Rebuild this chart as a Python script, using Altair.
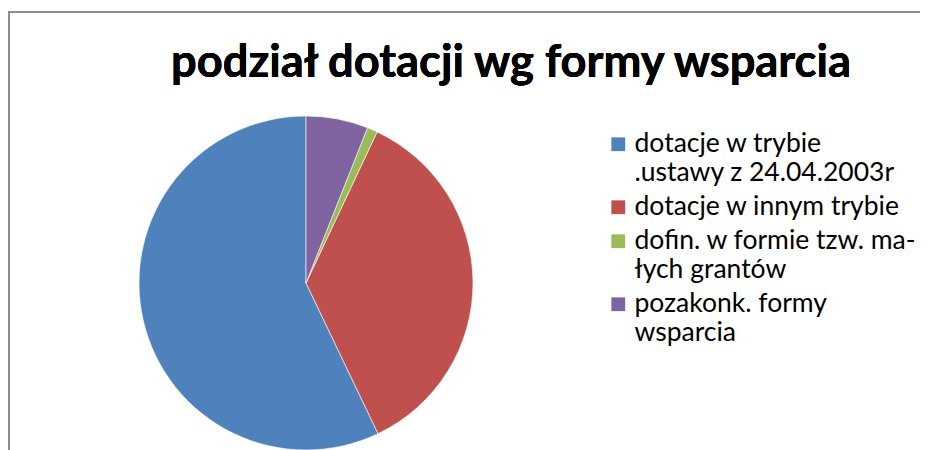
import altair as alt
import pandas as pd

categories = [
    "dotacje w trybie .ustawy z 24.04.2003r",
    "dotacje w innym trybie",
    "dofin. w formie tzw. małych grantów",
    "pozakonk. formy wsparcia",
]
values = [57.1, 35.9, 1.0, 6.0]
draw_order = [4, 3, 2, 1]
colors = ["#4F81BD", "#C0504D", "#9BBB59", "#8064A2"]
legend_lines = [
    ["dotacje w trybie", ".ustawy z 24.04.2003r"],
    ["dotacje w innym trybie"],
    ["dofin. w formie tzw. ma-", "łych grantów"],
    ["pozakonk. formy", "wsparcia"],
]
title_text = "podział dotacji wg formy wsparcia"

df = pd.DataFrame({"kategoria": categories, "wartosc": values, "kolej": draw_order})

expr = "datum.label"
for cat, lines in reversed(list(zip(categories, legend_lines))):
    arr = "[" + ",".join("'" + l + "'" for l in lines) + "]"
    expr = f"datum.label == '{cat}' ? {arr} : ({expr})"

pie = alt.Chart(df).mark_arc(radius=167, stroke="#ffffff", strokeWidth=0.6).encode(
    theta=alt.Theta("wartosc:Q", stack=True),
    order=alt.Order("kolej:Q"),
    color=alt.Color(
        "kategoria:N",
        scale=alt.Scale(domain=categories, range=colors),
        legend=alt.Legend(
            title=None,
            orient="none",
            legendX=597,
            legendY=123,
            symbolType="square",
            symbolSize=190,
            symbolStrokeWidth=0,
            labelFont="Lato",
            labelFontSize=26.5,
            labelColor="#000000",
            labelExpr=expr,
            labelLimit=400,
            labelOffset=3,
            rowPadding=7,
        ),
    ),
    x=alt.value(298),
    y=alt.value(275),
)

title = alt.Chart(df).mark_text(
    text=title_text, font="Lato", fontSize=45.3, fontWeight="bold", color="#000000",
    align="center", baseline="alphabetic",
).encode(x=alt.value(503), y=alt.value(69))

frame_top = alt.Chart(df).mark_rule(color="#8c8c8c", strokeWidth=1.5).encode(
    x=alt.value(0), x2=alt.value(912), y=alt.value(4)
)
frame_left = alt.Chart(df).mark_rule(color="#8c8c8c", strokeWidth=1.5).encode(
    x=alt.value(1), y=alt.value(4), y2=alt.value(442)
)

chart = alt.layer(pie, title, frame_top, frame_left).properties(
    width=912, height=442, padding=0, autosize=alt.AutoSizeParams(type="none"),
    background="#ffffff",
).configure_view(stroke=None)

chart.save("out.html", embed_options={"renderer": "svg", "actions": False})
